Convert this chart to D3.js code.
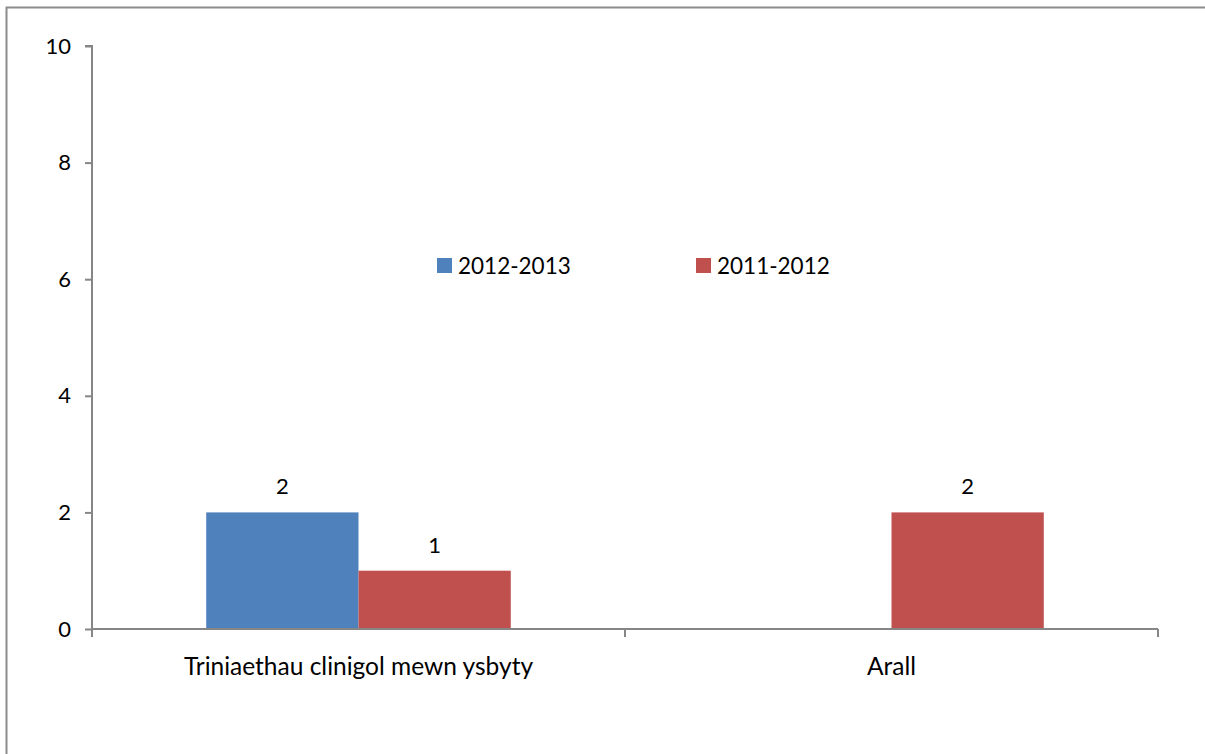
<!DOCTYPE html>
<html><head><meta charset="utf-8">
<script src="https://cdn.jsdelivr.net/npm/d3@7"></script>
<style>body{margin:0;background:#fff}svg{display:block}text{font-family:Lato,"Open Sans",sans-serif}</style>
</head><body><svg id="c" width="1205" height="754"></svg>
<script>
const categories = ["Triniaethau clinigol mewn ysbyty", "Arall"];
const series = ["2012-2013", "2011-2012"];
const values2012_2013 = [2, null];
const values2011_2012 = [1, 2];
const yTicks = [0, 2, 4, 6, 8, 10];
const colors = ["#4F81BD", "#C0504D"];

const svg = d3.select("#c");
const m = {left: 92, right: 1158, top: 46, bottom: 629};
const axisColor = "#868686";

svg.append("rect").attr("x", 6.5).attr("y", 7.5).attr("width", 1210).attr("height", 760)
  .attr("fill", "#fff").attr("stroke", "#8c8c8c").attr("stroke-width", 2);

const x0 = d3.scaleBand().domain(categories).range([m.left, m.right]).padding(0);
const x1 = d3.scaleBand().domain(series).range([0, x0.bandwidth()]).paddingInner(0).paddingOuter(0.75);
const y = d3.scaleLinear().domain([0, 10]).range([m.bottom, m.top]);

const data = [values2012_2013, values2011_2012];

// y axis
const ya = svg.append("g").attr("transform", `translate(${m.left},0)`)
  .call(d3.axisLeft(y).tickValues(yTicks).tickSize(7).tickPadding(14));
ya.select(".domain").attr("stroke", axisColor).attr("stroke-width", 2).attr("d", `M-7,${y(10)}H0V${y(0)}`);
ya.selectAll(".tick line").attr("stroke", axisColor).attr("stroke-width", 2);
ya.selectAll(".tick text").attr("font-size", 22).attr("fill", "#000").attr("font-family", "Lato, sans-serif");

// bars
series.forEach((s, si) => {
  const g = svg.append("g");
  categories.forEach((c, ci) => {
    const v = data[si][ci];
    if (v == null) return;
    g.append("rect").attr("x", x0(c) + x1(s)).attr("y", y(v))
      .attr("width", x1.bandwidth()).attr("height", y(0) - y(v)).attr("fill", colors[si]);
    g.append("text").attr("x", x0(c) + x1(s) + x1.bandwidth() / 2).attr("y", y(v) - 18)
      .attr("text-anchor", "middle").attr("font-size", 22).attr("fill", "#000").text(v);
  });
});

// x axis
const xa = svg.append("g").attr("transform", `translate(0,${m.bottom})`);
xa.append("line").attr("x1", m.left).attr("x2", m.right).attr("stroke", axisColor).attr("stroke-width", 2);
const xticks = [m.left, ...categories.map(c => x0(c) + x0.bandwidth())];
xa.selectAll(".xt").data(xticks).join("line").attr("x1", d => d).attr("x2", d => d)
  .attr("y1", 0).attr("y2", 8).attr("stroke", axisColor).attr("stroke-width", 2);
xa.selectAll(".xl").data(categories).join("text").attr("x", d => x0(d) + x0.bandwidth() / 2)
  .attr("y", 46).attr("text-anchor", "middle").attr("font-size", 24.5).attr("fill", "#000").text(d => d);

// legend
const legX = [437, 696];
series.forEach((s, i) => {
  svg.append("rect").attr("x", legX[i]).attr("y", 258).attr("width", 15).attr("height", 15).attr("fill", colors[i]);
  svg.append("text").attr("x", legX[i] + 21).attr("y", 274).attr("font-size", 22.5).attr("fill", "#000").text(s);
});
</script></body></html>
